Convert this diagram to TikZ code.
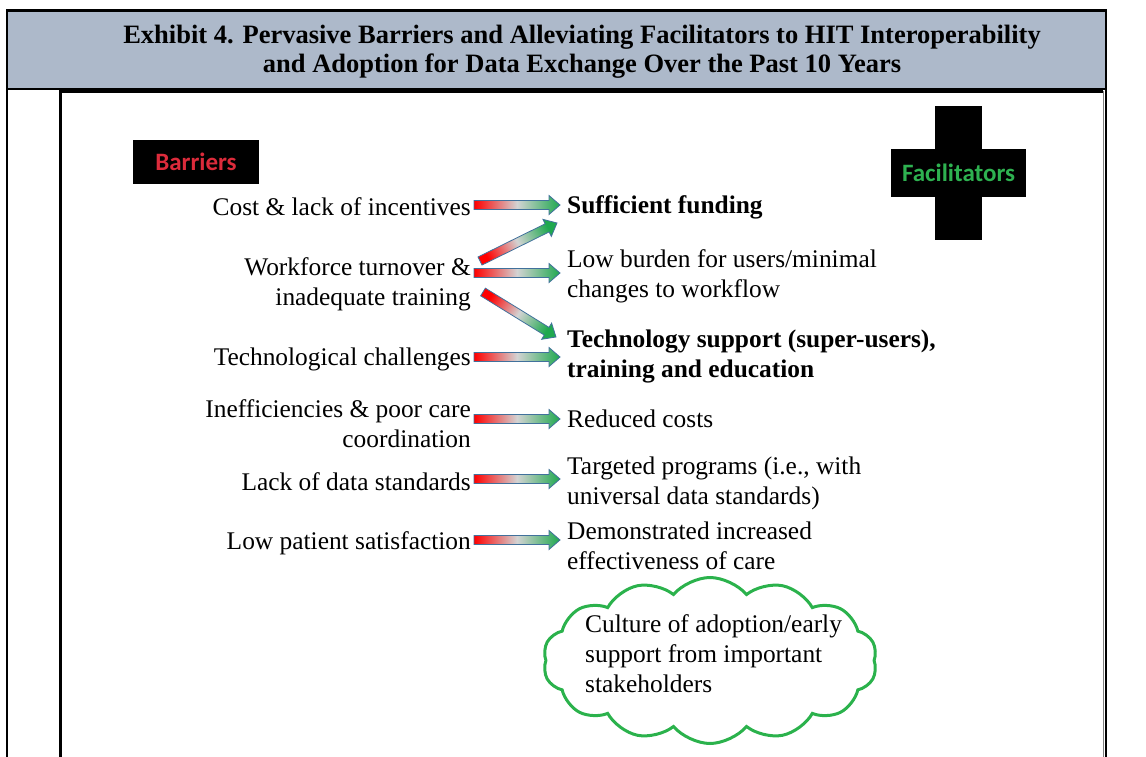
\documentclass[tikz,border=0pt]{standalone}
\usepackage{fontspec}
\setmainfont{Liberation Serif}
\newfontfamily\calib{Carlito}
\usetikzlibrary{shapes.symbols,calc}
\definecolor{hdr}{HTML}{ADB9CA}
\definecolor{barred}{HTML}{DC2B3B}
\definecolor{facgreen}{HTML}{2EB150}
\definecolor{cloudgreen}{HTML}{2BB24C}
\definecolor{arrred}{HTML}{FF0000}
\definecolor{arrmid}{HTML}{D3D3D3}
\definecolor{arrgreen}{HTML}{1FA84F}
\definecolor{arredge}{HTML}{41719C}
\newcommand\blockarrow[2]{%
  \path let \p1=(#1), \p2=(#2) in \pgfextra{%
    \pgfmathsetmacro\tmpang{atan2(\y2-\y1,\x2-\x1)}%
    \pgfmathsetmacro\tmplen{veclen(\x2-\x1,\y2-\y1)}%
    \xdef\baang{\tmpang}\xdef\balen{\tmplen}};
  \pgfmathsetmacro\bahx{\balen-11}%
  \pgfmathsetmacro\baangs{\baang+90}%
  \begin{scope}[shift={(#1)}, rotate=\baang]
    \draw[arrowbody, shading angle=\baangs]
      (0pt,-4.5pt) -- (\bahx pt,-4.5pt) -- (\bahx pt,-9.5pt) -- (\balen pt,0pt)
      -- (\bahx pt,9.5pt) -- (\bahx pt,4.5pt) -- (0pt,4.5pt) -- cycle;
  \end{scope}}
\begin{document}
\begin{tikzpicture}[x=1pt,y=-1pt,
  txt/.style={font=\fontsize{25.4}{30}\selectfont, inner sep=0pt},
  btxt/.style={font=\fontsize{25.4}{30}\selectfont\bfseries, inner sep=0pt},
  lft/.style={anchor=east, align=right},
  rgt/.style={anchor=west, align=left},
  arrowbody/.style={left color=arrred, right color=arrgreen, middle color=arrmid, draw=arredge, line width=0.8pt},
  label/.style={inner sep=0pt, font=\calib\bfseries\fontsize{25}{28}\selectfont}]
\useasboundingbox (0,0) rectangle (1146,757);
% header
\fill[hdr] (7,10) rectangle (1106,89.5);
\draw[line width=2.5pt] (7,757) -- (7,10.5) -- (1106,10.5) -- (1106,757);
\draw[line width=2pt] (7,89.5) -- (1106,89.5);
\node[font=\fontsize{26.5}{29}\selectfont\bfseries, align=center, inner sep=0pt] (title) at (582,52)
  {Exhibit 4. Pervasive Barriers and Alleviating Facilitators to HIT Interoperability\\and Adoption for Data Exchange Over the Past 10 Years};
% inner picture frame
\draw[gray, line width=1pt] (1103,91) -- (1103,757);
\draw[line width=2.5pt] (61,91.5) -- (1103,91.5);
\draw[line width=3pt] (60.7,90) -- (60.7,757);
% labels
\node[label, fill=black, text=barred, minimum width=126pt, minimum height=44pt] (bar) at (196,162) {Barriers};
\fill (935,106) rectangle (982,240);
\fill (891,149) rectangle (1026,197);
\node[label, text=facgreen] (fac) at (958.5,173) {Facilitators};
% barrier texts
\node[txt,lft] (b1) at (471,206.5) {Cost \& lack of incentives};
\node[txt,lft] (b2) at (471,284) {Workforce turnover \&\\inadequate training};
\node[txt,lft] (b3) at (471,359) {Technological challenges};
\node[txt,lft] (b4) at (471,424) {Inefficiencies \& poor care\\coordination};
\node[txt,lft] (b5) at (471,481.5) {Lack of data standards};
\node[txt,lft] (b6) at (471,543) {Low patient satisfaction};
% facilitator texts
\node[btxt,rgt] (f1) at (567,207) {Sufficient funding};
\node[txt,rgt] (f2) at (567,276) {Low burden for users/minimal\\changes to workflow};
\node[btxt,rgt] (f3) at (567,356.5) {Technology support (super-users),\\training and education};
\node[txt,rgt] (f4) at (567,419) {Reduced costs};
\node[txt,rgt] (f5) at (567,483) {Targeted programs (i.e., with\\universal data standards)};
\node[txt,rgt] (f6) at (567,545.5) {Demonstrated increased\\effectiveness of care};
% cloud
\node[cloud, draw=cloudgreen, line width=3pt, cloud puffs=14, cloud puff arc=100, aspect=2.1, minimum width=334pt, minimum height=166pt, inner sep=0pt] (cl) at (710,660.5) {};
\node[txt,rgt] (clt) at (585,654) {Culture of adoption/early\\support from important\\stakeholders};
% arrow end points
\coordinate (t1) at (474,205); \coordinate (h1) at (560,205);
\coordinate (t2) at (480,261); \coordinate (h2) at (557,223);
\coordinate (t3) at (474,273); \coordinate (h3) at (560,273);
\coordinate (t4) at (483,292); \coordinate (h4) at (556,337);
\coordinate (t5) at (474,357); \coordinate (h5) at (560,357);
\coordinate (t6) at (474,419); \coordinate (h6) at (560,419);
\coordinate (t7) at (474,479); \coordinate (h7) at (560,479);
\coordinate (t8) at (474,540); \coordinate (h8) at (560,540);
\blockarrow{t1}{h1}
\blockarrow{t2}{h2}
\blockarrow{t3}{h3}
\blockarrow{t4}{h4}
\blockarrow{t5}{h5}
\blockarrow{t6}{h6}
\blockarrow{t7}{h7}
\blockarrow{t8}{h8}
\end{tikzpicture}
\end{document}
